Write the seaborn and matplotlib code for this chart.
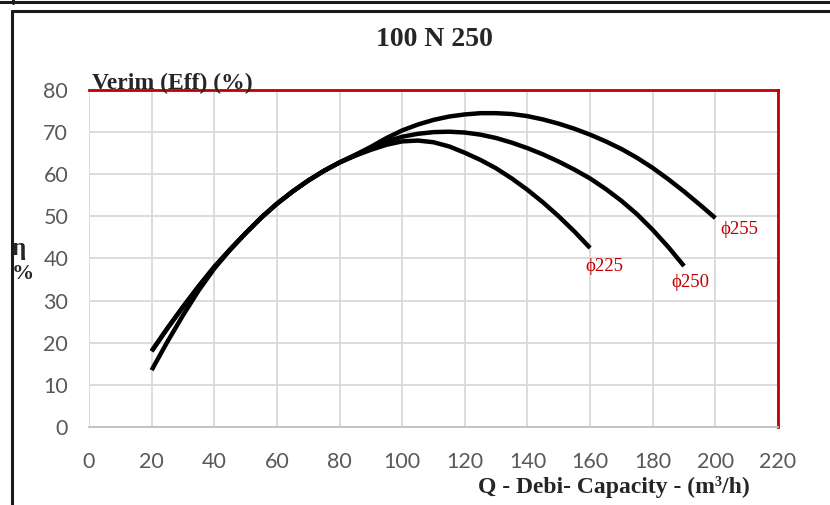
import numpy as np
import pandas as pd
import matplotlib
matplotlib.use("Agg")
import matplotlib.pyplot as plt
from matplotlib.lines import Line2D
import seaborn as sns

# efficiency curves (Q in m3/h, eta in %)
q_225 = [20, 25, 30, 35, 40, 45, 50, 55, 60, 65, 70, 75, 80, 85, 90, 95,
         100, 105, 110, 115, 120, 125, 130, 135, 140, 145, 150, 155, 160]
eff_225 = [18.0, 23.4, 28.5, 33.4, 38.0, 42.1, 46.0, 49.7, 53.0, 55.9, 58.5,
           60.8, 62.8, 64.4, 65.8, 67.0, 67.8, 68.0, 67.6, 66.6, 65.1, 63.4,
           61.4, 59.0, 56.3, 53.3, 50.0, 46.4, 42.5]

q_250 = [20, 25, 30, 35, 40, 45, 50, 55, 60, 65, 70, 75, 80, 85, 90, 95,
         100, 105, 110, 115, 120, 125, 130, 135, 140, 145, 150, 155, 160,
         165, 170, 175, 180, 185, 190]
eff_250 = [18.0, 23.4, 28.5, 33.4, 38.0, 42.1, 46.0, 49.7, 53.0, 55.9, 58.5,
           60.8, 62.8, 64.5, 66.2, 67.8, 68.9, 69.6, 70.0, 70.1, 69.9, 69.4,
           68.6, 67.5, 66.2, 64.7, 63.0, 61.1, 59.0, 56.5, 53.7, 50.5, 46.8,
           42.7, 38.2]

q_255 = [20, 25, 30, 35, 40, 45, 50, 55, 60, 65, 70, 75, 80, 85, 90, 95,
         100, 105, 110, 115, 120, 125, 130, 135, 140, 145, 150, 155, 160,
         165, 170, 175, 180, 185, 190, 195, 200]
eff_255 = [13.5, 20.2, 26.5, 32.4, 37.6, 42.0, 46.0, 49.7, 53.0, 55.9, 58.5,
           60.8, 62.8, 64.6, 66.5, 68.6, 70.4, 71.8, 72.9, 73.7, 74.2, 74.5,
           74.5, 74.3, 73.8, 73.0, 72.0, 70.8, 69.4, 67.8, 66.0, 63.9, 61.5,
           58.8, 55.9, 52.8, 49.6]

diameters = ["\u03d5225", "\u03d5250", "\u03d5255"]
label_pos = [(158.5, 38.0), (186.0, 34.4), (201.5, 47.0)]

x_ticks = list(range(0, 221, 20))
y_ticks = list(range(0, 81, 10))

RED = "#C00000"
GRID = "#d9d9d9"
TICK = "#595959"


def build_frame():
    parts = []
    for name, q, e in zip(diameters, [q_225, q_250, q_255], [eff_225, eff_250, eff_255]):
        parts.append(pd.DataFrame({"Q": q, "eff": e, "dia": name}))
    return pd.concat(parts, ignore_index=True)


def main():
    sns.set_style("white")
    df = build_frame()

    fig = plt.figure(figsize=(8.3, 5.05), dpi=100)
    ax = fig.add_axes([89 / 830, 78 / 505, 689 / 830, 337 / 505])

    sns.lineplot(data=df, x="Q", y="eff", hue="dia", palette=["black"] * 3,
                 sort=False, legend=False, linewidth=3.2, ax=ax,
                 solid_capstyle="butt", solid_joinstyle="round")

    ax.set_xlim(0, 220)
    ax.set_ylim(0, 80)
    ax.set_xticks(x_ticks)
    ax.set_yticks(y_ticks)
    ax.grid(True, color=GRID, linewidth=1.3)
    ax.set_axisbelow(True)
    ax.tick_params(length=0, labelsize=15.5, labelcolor=TICK)
    ax.tick_params(axis="y", pad=15)
    ax.tick_params(axis="x", pad=18)
    for lab in ax.get_xticklabels() + ax.get_yticklabels():
        lab.set_fontfamily("Lato")
    ax.set_xlabel("")
    ax.set_ylabel("")

    ax.spines["left"].set_visible(False)
    ax.spines["bottom"].set_color("#bfbfbf")
    ax.spines["bottom"].set_linewidth(1.3)
    for side in ["top", "right"]:
        ax.spines[side].set_color(RED)
        ax.spines[side].set_linewidth(2.0)

    serif = ["Liberation Serif", "DejaVu Serif"]
    for name, (x, y) in zip(diameters, label_pos):
        ax.text(x, y, name, color=RED, fontsize=13.5, family=serif,
                ha="left", va="center")

    fig.text(0.524, 1 - 40 / 505, "100 N 250", ha="center", va="center",
             fontsize=20, fontweight="bold", family=serif)
    fig.text(92 / 830, 1 - 89 / 505, "Verim (Eff) (%)", ha="left",
             va="baseline", fontsize=17, fontweight="bold", family=serif)
    fig.text(12 / 830, 1 - 249 / 505, "\u03b7", ha="left", va="center",
             fontsize=18, fontweight="bold", family=serif)
    fig.text(12 / 830, 1 - 274 / 505, "%", ha="left", va="center",
             fontsize=16, fontweight="bold", family=serif)
    fig.text(614 / 830, 1 - 487 / 505, "Q - Debi- Capacity - (m\u00b3/h)",
             ha="center", va="center", fontsize=17, fontweight="bold",
             family=serif)

    # frame lines of the surrounding sheet
    frame = "#1a1a1a"
    fig.add_artist(Line2D([0, 1], [1 - 1.5 / 505] * 2, color=frame, lw=2.2,
                          transform=fig.transFigure))
    fig.add_artist(Line2D([12 / 830, 1], [1 - 11 / 505] * 2, color=frame,
                          lw=2.2, transform=fig.transFigure))
    fig.add_artist(Line2D([12 / 830] * 2, [0, 1 - 11 / 505], color=frame,
                          lw=2.2, transform=fig.transFigure))
    fig.add_artist(Line2D([13 / 830] * 2, [1 - 3 / 505, 1], color=frame,
                          lw=2.2, transform=fig.transFigure))

    fig.savefig("out.png", dpi=100)
    plt.close(fig)


if __name__ == "__main__":
    main()
